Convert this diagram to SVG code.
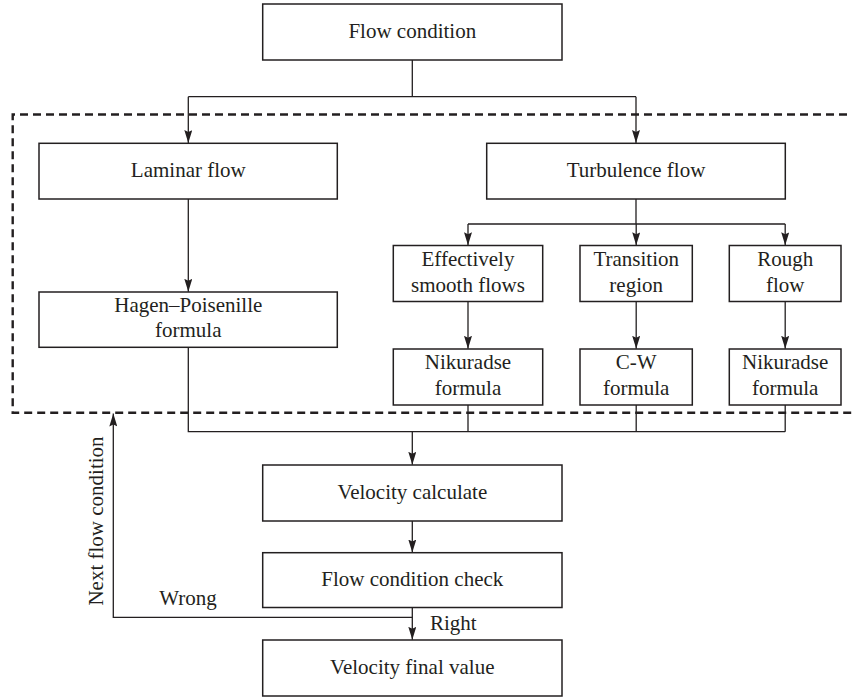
<svg xmlns="http://www.w3.org/2000/svg" width="852" height="697" viewBox="0 0 852 697">
<style>
  .box { fill: #ffffff; stroke: #231f20; stroke-width: 1.5; }
  .ln { fill: none; stroke: #231f20; stroke-width: 1.3; }
  .dash { fill: none; stroke: #231f20; stroke-width: 2.4; stroke-dasharray: 8 5; }
  text { font-family: "Liberation Serif", "Times New Roman", serif; font-size: 21px; fill: #231f20; text-anchor: middle; }
</style>
<defs>
  <marker id="arr" markerUnits="userSpaceOnUse" markerWidth="13" markerHeight="8" refX="13" refY="4" orient="auto" viewBox="0 0 13 8">
    <path d="M0,0 L13,4 L0,8 L2,4 Z" fill="#231f20"/>
  </marker>
</defs>
<rect width="852" height="697" fill="#ffffff"/>

<g id="dashed-region">
  <path class="dash" d="M860 114.5 H12.7 V412.7 H860"/>
</g>

<g id="connectors">
  <path class="ln" d="M412.3 60 V96.7 M188.3 96.7 H636"/>
  <path class="ln" d="M188.3 96.7 V143" marker-end="url(#arr)"/>
  <path class="ln" d="M636 96.7 V143" marker-end="url(#arr)"/>
  <path class="ln" d="M636 199 V224 M468 224 H785.2"/>
  <path class="ln" d="M468 224 V245.3" marker-end="url(#arr)"/>
  <path class="ln" d="M636.2 224 V245.3" marker-end="url(#arr)"/>
  <path class="ln" d="M785.2 224 V245.3" marker-end="url(#arr)"/>
  <path class="ln" d="M468 301.5 V348.8" marker-end="url(#arr)"/>
  <path class="ln" d="M636.2 301.5 V348.8" marker-end="url(#arr)"/>
  <path class="ln" d="M785.2 301.5 V348.8" marker-end="url(#arr)"/>
  <path class="ln" d="M188.3 199 V291.8" marker-end="url(#arr)"/>
  <path class="ln" d="M188.3 347.3 V431.7 H785.2 M468 405 V431.7 M636.2 405 V431.7 M785.2 405 V431.7"/>
  <path class="ln" d="M412.3 431.7 V464.8" marker-end="url(#arr)"/>
  <path class="ln" d="M412.3 521 V552.5" marker-end="url(#arr)"/>
  <path class="ln" d="M412.3 607.5 V639.8" marker-end="url(#arr)"/>
  <path class="ln" d="M412.3 617.3 H113.3 V413.5" marker-end="url(#arr)"/>
</g>

<g id="flow-condition">
  <rect class="box" x="262.7" y="4" width="299.3" height="56"/>
  <text x="412.3" y="37.7">Flow condition</text>
</g>
<g id="laminar-flow">
  <rect class="box" x="39" y="143.3" width="298.3" height="55.7"/>
  <text x="188.3" y="176.7">Laminar flow</text>
</g>
<g id="turbulence-flow">
  <rect class="box" x="486.7" y="143.3" width="298.6" height="55.7"/>
  <text x="636" y="176.5">Turbulence flow</text>
</g>
<g id="effectively-smooth">
  <rect class="box" x="393.3" y="245.5" width="149.4" height="56"/>
  <text x="468" y="266">Effectively</text>
  <text x="468" y="291.5">smooth flows</text>
</g>
<g id="transition-region">
  <rect class="box" x="580" y="245.5" width="112.3" height="56"/>
  <text x="636.2" y="266">Transition</text>
  <text x="636.2" y="291.5">region</text>
</g>
<g id="rough-flow">
  <rect class="box" x="729.3" y="245.5" width="111.7" height="56"/>
  <text x="785.2" y="266">Rough</text>
  <text x="785.2" y="291.5">flow</text>
</g>
<g id="nikuradse-1">
  <rect class="box" x="393.3" y="349" width="149.4" height="56"/>
  <text x="468" y="369">Nikuradse</text>
  <text x="468" y="394.5">formula</text>
</g>
<g id="cw-formula">
  <rect class="box" x="580" y="349" width="112.3" height="56"/>
  <text x="636.2" y="369">C-W</text>
  <text x="636.2" y="394.5">formula</text>
</g>
<g id="nikuradse-2">
  <rect class="box" x="729.3" y="349" width="111.7" height="56"/>
  <text x="785.2" y="369">Nikuradse</text>
  <text x="785.2" y="394.5">formula</text>
</g>
<g id="hagen-poisenille">
  <rect class="box" x="39" y="292" width="298.3" height="55.3"/>
  <text x="188.3" y="311.7">Hagen–Poisenille</text>
  <text x="188.3" y="336.7">formula</text>
</g>
<g id="velocity-calculate">
  <rect class="box" x="262.7" y="465" width="299.3" height="56"/>
  <text x="412.3" y="498.5">Velocity calculate</text>
</g>
<g id="flow-condition-check">
  <rect class="box" x="262.7" y="552.7" width="299.3" height="54.8"/>
  <text x="412.3" y="585.5">Flow condition check</text>
</g>
<g id="velocity-final">
  <rect class="box" x="262.7" y="640" width="299.3" height="56"/>
  <text x="412.3" y="673.5">Velocity final value</text>
</g>

<g id="labels">
  <text x="188" y="605">Wrong</text>
  <text x="430" y="630" style="text-anchor:start">Right</text>
  <text transform="translate(102.7 521) rotate(-90)" x="0" y="0">Next flow condition</text>
</g>
</svg>
